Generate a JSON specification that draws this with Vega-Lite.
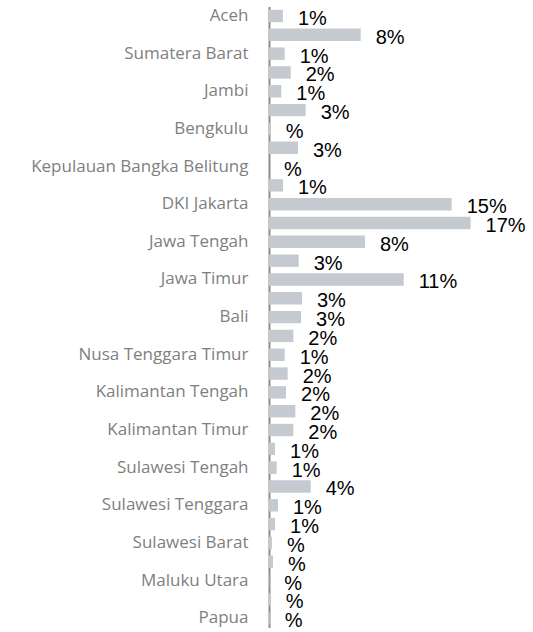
{
  "$schema": "https://vega.github.io/schema/vega-lite/v6.json",
  "autosize": {"type": "none"},
  "width": 260,
  "height": 621,
  "padding": {"left": 269, "top": 6.6, "right": 4, "bottom": 4.4},
  "background": "white",
  "config": {"view": {"stroke": null}},
  "data": {"values": [
    {"province": "Aceh", "value": 1.18, "label": "1%"},
    {"province": "Sumatera Utara", "value": 7.76, "label": "8%"},
    {"province": "Sumatera Barat", "value": 1.33, "label": "1%"},
    {"province": "Riau", "value": 1.84, "label": "2%"},
    {"province": "Jambi", "value": 1.04, "label": "1%"},
    {"province": "Sumatera Selatan", "value": 3.1, "label": "3%"},
    {"province": "Bengkulu", "value": 0.14, "label": "%"},
    {"province": "Lampung", "value": 2.45, "label": "3%"},
    {"province": "Kepulauan Bangka Belitung", "value": 0.0, "label": "%"},
    {"province": "Kepulauan Riau", "value": 1.18, "label": "1%"},
    {"province": "DKI Jakarta", "value": 15.46, "label": "15%"},
    {"province": "Jawa Barat", "value": 17.06, "label": "17%"},
    {"province": "Jawa Tengah", "value": 8.12, "label": "8%"},
    {"province": "DI Yogyakarta", "value": 2.51, "label": "3%"},
    {"province": "Jawa Timur", "value": 11.4, "label": "11%"},
    {"province": "Banten", "value": 2.79, "label": "3%"},
    {"province": "Bali", "value": 2.71, "label": "3%"},
    {"province": "Nusa Tenggara Barat", "value": 2.06, "label": "2%"},
    {"province": "Nusa Tenggara Timur", "value": 1.33, "label": "1%"},
    {"province": "Kalimantan Barat", "value": 1.58, "label": "2%"},
    {"province": "Kalimantan Tengah", "value": 1.44, "label": "2%"},
    {"province": "Kalimantan Selatan", "value": 2.23, "label": "2%"},
    {"province": "Kalimantan Timur", "value": 2.06, "label": "2%"},
    {"province": "Sulawesi Utara", "value": 0.51, "label": "1%"},
    {"province": "Sulawesi Tengah", "value": 0.65, "label": "1%"},
    {"province": "Sulawesi Selatan", "value": 3.53, "label": "4%"},
    {"province": "Sulawesi Tenggara", "value": 0.76, "label": "1%"},
    {"province": "Gorontalo", "value": 0.51, "label": "1%"},
    {"province": "Sulawesi Barat", "value": 0.25, "label": "%"},
    {"province": "Maluku", "value": 0.34, "label": "%"},
    {"province": "Maluku Utara", "value": 0.03, "label": "%"},
    {"province": "Papua Barat", "value": 0.14, "label": "%"},
    {"province": "Papua", "value": 0.06, "label": "%"}
  ]},
  "encoding": {
    "y": {
      "field": "province",
      "type": "nominal",
      "sort": null,
      "scale": {"paddingInner": 0.34, "paddingOuter": 0.17},
      "axis": {
        "title": null,
        "ticks": false,
        "domainColor": "#8c8c8c",
        "domainWidth": 2,
        "labelPadding": 21,
        "labelFont": "Open Sans",
        "labelFontSize": 17,
        "labelColor": "#7f7f7f",
        "labelLimit": 300,
        "values": ["Aceh", "Sumatera Barat", "Jambi", "Bengkulu", "Kepulauan Bangka Belitung", "DKI Jakarta", "Jawa Tengah", "Jawa Timur", "Bali", "Nusa Tenggara Timur", "Kalimantan Tengah", "Kalimantan Timur", "Sulawesi Tengah", "Sulawesi Tenggara", "Sulawesi Barat", "Maluku Utara", "Papua"]
      }
    },
    "x": {
      "field": "value",
      "type": "quantitative",
      "scale": {"domain": [0, 22], "nice": false},
      "axis": null
    }
  },
  "layer": [
    {"mark": {"type": "bar", "color": "#c5cad0"}},
    {
      "mark": {"type": "text", "align": "left", "baseline": "middle", "dx": 15, "dy": 3, "font": "Liberation Sans", "fontSize": 20, "color": "#000000"},
      "encoding": {"text": {"field": "label"}}
    }
  ]
}
